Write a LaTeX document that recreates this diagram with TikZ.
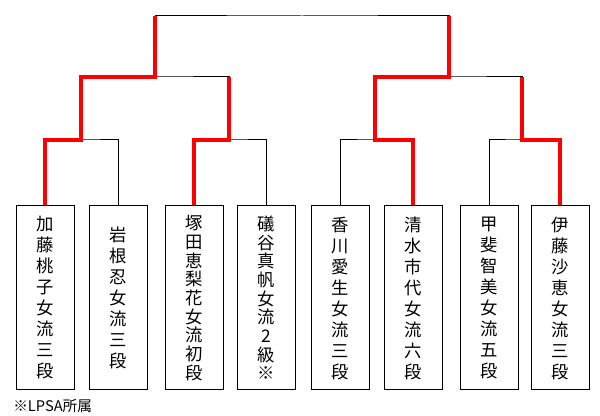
\documentclass[tikz,border=0pt]{standalone}
\usepackage{fontspec}
\newfontfamily\jpfont{Noto Sans CJK JP}
\tikzset{
  player/.style={draw,line width=0.75pt,minimum width=43.5pt,minimum height=138pt,
    inner sep=0pt,align=center,font=\jpfont\fontsize{13pt}{#1}\selectfont},
  player/.default=15.75pt,
  bracket/.style={line width=0.75pt},
  win/.style={draw=red,line width=3pt}
}
\begin{document}
\begin{tikzpicture}[x=0.75pt,y=-0.75pt]
  \useasboundingbox (0,0) rectangle (600,416);
  % players
  \node[player] (p1) at (45,298) {加\\藤\\桃\\子\\女\\流\\三\\段};
  \node[player] (p2) at (118,298) {岩\\根\\忍\\女\\流\\三\\段};
  \node[player=14pt] (p3) at (194,298) {塚\\田\\恵\\梨\\花\\女\\流\\初\\段};
  \node[player=14pt] (p4) at (266,298) {礒\\谷\\真\\帆\\女\\流\\2\\級\\※};
  \node[player] (p5) at (340,298) {香\\川\\愛\\生\\女\\流\\三\\段};
  \node[player] (p6) at (413,298) {清\\水\\市\\代\\女\\流\\六\\段};
  \node[player] (p7) at (489,298) {甲\\斐\\智\\美\\女\\流\\五\\段};
  \node[player] (p8) at (560,298) {伊\\藤\\沙\\恵\\女\\流\\三\\段};
  % junctions
  \coordinate (a1) at (81,140);
  \coordinate (a2) at (229,140);
  \coordinate (a3) at (375,140);
  \coordinate (a4) at (522,140);
  \coordinate (b1) at (155,77);
  \coordinate (b2) at (449,77);
  \coordinate (c) at (302,16);
  % bracket
  \draw[bracket] (p1.north) |- (a1) -| (p2.north);
  \draw[bracket] (p3.north) |- (a2) -| (p4.north);
  \draw[bracket] (p5.north) |- (a3) -| (p6.north);
  \draw[bracket] (p7.north) |- (a4) -| (p8.north);
  \draw[bracket] (a1) |- (b1) -| (a2);
  \draw[bracket] (a3) |- (b2) -| (a4);
  \draw[bracket] (b1) |- (c) -| (b2);
  % winners
  \draw[win] (p1.north) |- (a1) |- (b1) -- (b1 |- c);
  \draw[win] (p3.north) |- (a2) -- (a2 |- b1);
  \draw[win] (p6.north) |- (a3) |- (b2) -- (b2 |- c);
  \draw[win] (p8.north) |- (a4) -- (a4 |- b2);
  % note
  \node[anchor=west,inner sep=0pt,font=\jpfont\fontsize{11pt}{13pt}\selectfont] (note) at (13,406) {※LPSA所属};
\end{tikzpicture}
\end{document}
